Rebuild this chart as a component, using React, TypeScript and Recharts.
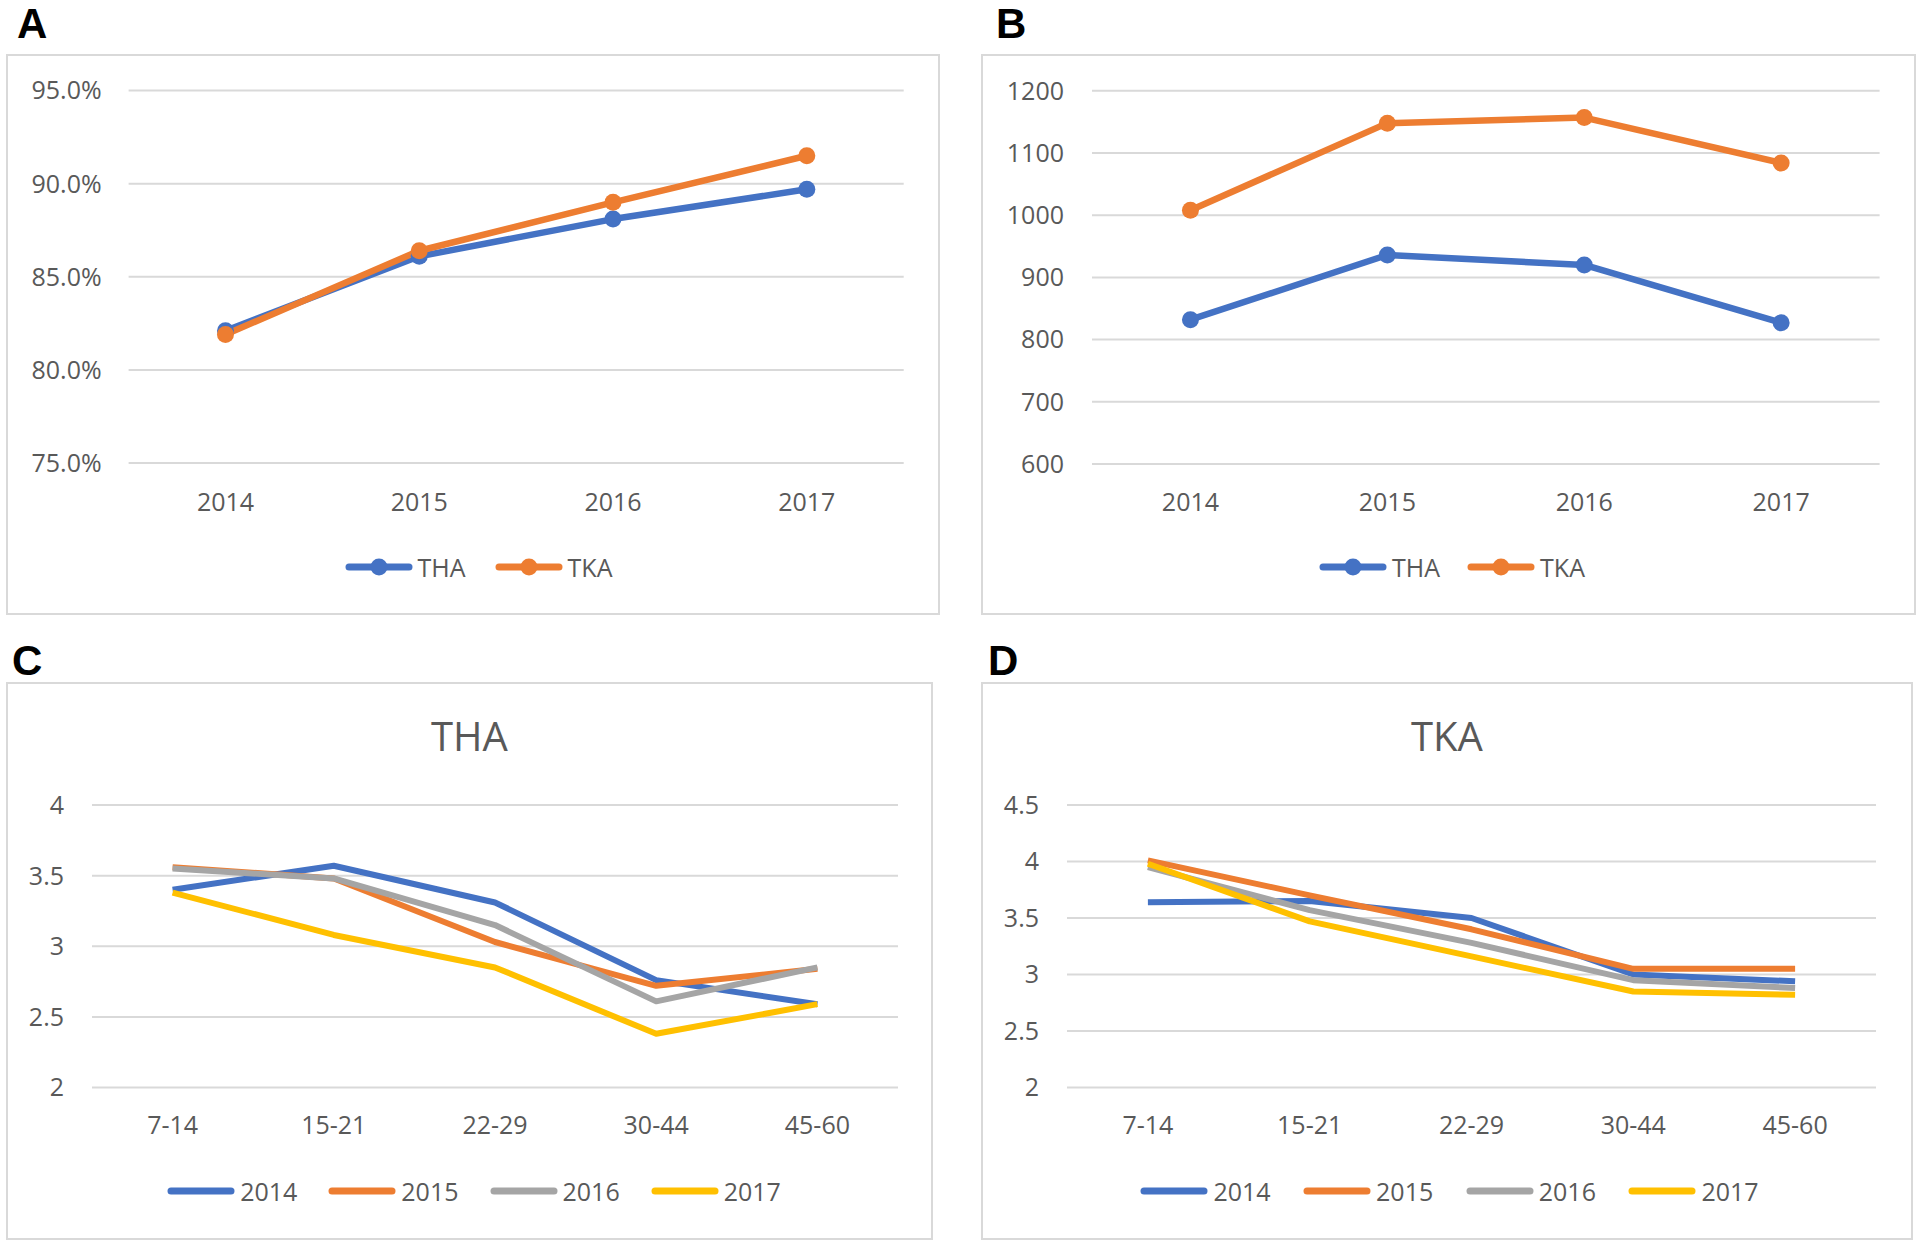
import { LineChart, Line, XAxis, YAxis, CartesianGrid, Legend } from 'recharts'

const years = ['2014', '2015', '2016', '2017']
const thaRate = [82.1, 86.1, 88.1, 89.7]
const tkaRate = [81.9, 86.4, 89.0, 91.5]
const thaCount = [832, 936, 920, 827]
const tkaCount = [1008, 1148, 1157, 1084]

const stays = ['7-14', '15-21', '22-29', '30-44', '45-60']
const tha2014 = [3.4, 3.57, 3.31, 2.76, 2.59]
const tha2015 = [3.56, 3.48, 3.03, 2.72, 2.84]
const tha2016 = [3.55, 3.48, 3.15, 2.61, 2.85]
const tha2017 = [3.38, 3.08, 2.85, 2.38, 2.59]
const tka2014 = [3.64, 3.65, 3.5, 3.0, 2.94]
const tka2015 = [4.01, 3.7, 3.4, 3.05, 3.05]
const tka2016 = [3.95, 3.57, 3.28, 2.95, 2.88]
const tka2017 = [3.98, 3.47, 3.16, 2.85, 2.82]

const rateTicks = [75, 80, 85, 90, 95]
const countTicks = [600, 700, 800, 900, 1000, 1100, 1200]
const thaTicks = [2, 2.5, 3, 3.5, 4]
const tkaTicks = [2, 2.5, 3, 3.5, 4, 4.5]

const BLUE = '#4472C4'
const ORANGE = '#ED7D31'
const GRAY = '#A5A5A5'
const YELLOW = '#FFC000'
const TEXT = '#595959'
const GRID = '#d9d9d9'
const FONT = '"Open Sans", "Noto Sans", sans-serif'
const LEGEND_H = 30

const rateData = years.map((y, i) => ({ year: y, THA: thaRate[i], TKA: tkaRate[i] }))
const countData = years.map((y, i) => ({ year: y, THA: thaCount[i], TKA: tkaCount[i] }))
const thaData = stays.map((s, i) => ({
  stay: s, '2014': tha2014[i], '2015': tha2015[i], '2016': tha2016[i], '2017': tha2017[i],
}))
const tkaData = stays.map((s, i) => ({
  stay: s, '2014': tka2014[i], '2015': tka2015[i], '2016': tka2016[i], '2017': tka2017[i],
}))

const yearSeries = [
  { key: '2014', color: BLUE },
  { key: '2015', color: ORANGE },
  { key: '2016', color: GRAY },
  { key: '2017', color: YELLOW },
]
const procSeries = [
  { key: 'THA', color: BLUE },
  { key: 'TKA', color: ORANGE },
]

type Box = { left: number; top: number; width: number; height: number }
type Plot = { left: number; right: number; top: number; bottom: number }

interface PanelProps {
  box: Box
  plot: Plot
  data: Record<string, string | number>[]
  xKey: string
  series: { key: string; color: string }[]
  ticks: number[]
  fmt?: (v: number) => string
  dots?: boolean
  title?: string
  xTickMargin: number
  yTickMargin: number
  legendY: number
  legendShift: number
  itemGap: number
}

function Panel({
  box, plot, data, xKey, series, ticks, fmt, dots, title, xTickMargin, yTickMargin, legendY, legendShift, itemGap,
}: PanelProps) {
  const yWidth = plot.left - box.left
  const mRight = box.left + box.width - plot.right
  const mTop = plot.top - box.top
  const mBottom = box.height - (legendY - box.top + LEGEND_H / 2)
  const xHeight = box.height - (plot.bottom - box.top) - mBottom - LEGEND_H
  const pad = (plot.right - plot.left) / data.length / 2

  const renderLegend = (props: any) => {
    const payload = props.payload || []
    return (
      <div
        style={{
          display: 'flex',
          justifyContent: 'center',
          alignItems: 'center',
          height: LEGEND_H,
          paddingLeft: legendShift * 2,
          fontFamily: FONT,
        }}
      >
        {payload.map((p: any, i: number) => (
          <div
            key={p.value}
            style={{ display: 'flex', alignItems: 'center', marginLeft: i === 0 ? 0 : itemGap }}
          >
            <svg width={70} height={22}>
              <line x1={5} x2={65} y1={11} y2={11} stroke={p.color} strokeWidth={7} strokeLinecap="round" />
              {dots && <circle cx={35} cy={11} r={8.5} fill={p.color} />}
            </svg>
            <span style={{ marginLeft: 4, color: TEXT, fontSize: 25, lineHeight: '30px' }}>{p.value}</span>
          </div>
        ))}
      </div>
    )
  }

  return (
    <div
      style={{
        position: 'absolute',
        left: box.left,
        top: box.top,
        width: box.width,
        height: box.height,
        outline: `2px solid ${GRID}`,
        outlineOffset: -2,
      }}
    >
      {title && (
        <div
          style={{
            position: 'absolute',
            left: 0,
            width: box.width,
            top: 737 - box.top - 21,
            textAlign: 'center',
            fontFamily: FONT,
            fontSize: 40,
            lineHeight: '40px',
            color: TEXT,
          }}
        >
          {title}
        </div>
      )}
      <LineChart
        width={box.width}
        height={box.height}
        data={data}
        margin={{ top: mTop, right: mRight, left: 0, bottom: mBottom }}
      >
        <CartesianGrid horizontal vertical={false} stroke={GRID} strokeWidth={2} />
        <XAxis
          dataKey={xKey}
          type="category"
          axisLine={false}
          tickLine={false}
          tickSize={0}
          tickMargin={xTickMargin}
          height={xHeight}
          padding={{ left: pad, right: pad }}
          interval={0}
          tick={{ fill: TEXT, fontSize: 25, fontFamily: FONT }}
        />
        <YAxis
          type="number"
          domain={[ticks[0], ticks[ticks.length - 1]]}
          ticks={ticks}
          interval={0}
          width={yWidth}
          axisLine={false}
          tickLine={false}
          tickSize={0}
          tickMargin={yTickMargin}
          tickFormatter={fmt}
          tick={{ fill: TEXT, fontSize: 25, fontFamily: FONT }}
        />
        <Legend
          verticalAlign="bottom"
          align="center"
          content={renderLegend}
          wrapperStyle={{ left: 0, width: box.width }}
        />
        {series.map((s) => (
          <Line
            key={s.key}
            type="linear"
            dataKey={s.key}
            name={s.key}
            stroke={s.color}
            strokeWidth={dots ? 6.5 : 6}
            strokeLinejoin="round"
            dot={dots ? { r: 8.5, fill: s.color, stroke: s.color, strokeWidth: 0 } : false}
            activeDot={false}
            isAnimationActive={false}
          />
        ))}
      </LineChart>
    </div>
  )
}

const letterStyle = {
  position: 'absolute' as const,
  fontFamily: '"Liberation Sans", Arial, sans-serif',
  fontWeight: 700,
  fontSize: 42,
  lineHeight: '42px',
  color: '#000',
}

export default function App() {
  return (
    <div style={{ position: 'absolute', left: 0, top: 0, width: 1920, height: 1245, background: '#fff', overflow: 'hidden' }}>
      <div style={{ ...letterStyle, left: 17, top: 3 }}>A</div>
      <div style={{ ...letterStyle, left: 996, top: 3 }}>B</div>
      <div style={{ ...letterStyle, left: 12, top: 640 }}>C</div>
      <div style={{ ...letterStyle, left: 988, top: 640 }}>D</div>

      <Panel
        box={{ left: 6, top: 54, width: 934, height: 561 }}
        plot={{ left: 128.6, right: 903.7, top: 90.6, bottom: 463 }}
        data={rateData}
        xKey="year"
        series={procSeries}
        ticks={rateTicks}
        fmt={(v) => `${v.toFixed(1)}%`}
        dots
        xTickMargin={30}
        yTickMargin={27}
        legendY={567}
        legendShift={5}
        itemGap={28}
      />
      <Panel
        box={{ left: 981, top: 54, width: 935, height: 561 }}
        plot={{ left: 1092, right: 1879.6, top: 90.8, bottom: 464 }}
        data={countData}
        xKey="year"
        series={procSeries}
        ticks={countTicks}
        dots
        xTickMargin={29}
        yTickMargin={28}
        legendY={567}
        legendShift={3}
        itemGap={26}
      />
      <Panel
        box={{ left: 6, top: 682, width: 927, height: 558 }}
        plot={{ left: 92, right: 898, top: 805, bottom: 1087.5 }}
        data={thaData}
        xKey="stay"
        series={yearSeries}
        ticks={thaTicks}
        title="THA"
        xTickMargin={29}
        yTickMargin={28}
        legendY={1191}
        legendShift={4}
        itemGap={30}
      />
      <Panel
        box={{ left: 981, top: 682, width: 932, height: 558 }}
        plot={{ left: 1067, right: 1876, top: 805, bottom: 1087.5 }}
        data={tkaData}
        xKey="stay"
        series={yearSeries}
        ticks={tkaTicks}
        title="TKA"
        xTickMargin={29}
        yTickMargin={28}
        legendY={1191}
        legendShift={2}
        itemGap={31.5}
      />
    </div>
  )
}
